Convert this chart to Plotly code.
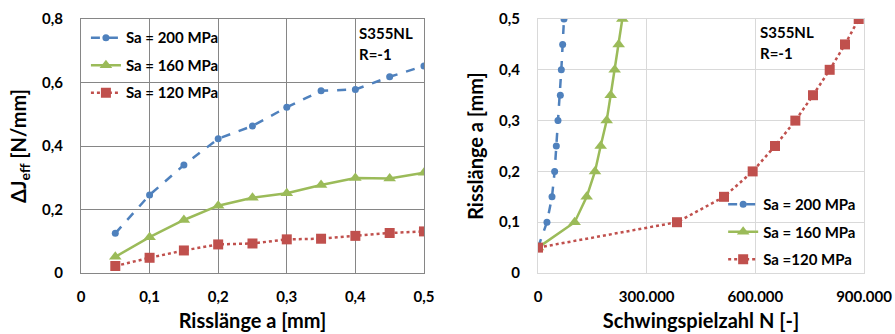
import plotly.graph_objects as go

# ---- data ----
a_left = [0.05, 0.10, 0.15, 0.20, 0.25, 0.30, 0.35, 0.40, 0.45, 0.50]
dJ_200 = [0.125, 0.246, 0.340, 0.423, 0.463, 0.522, 0.574, 0.578, 0.618, 0.652]
dJ_160 = [0.051, 0.113, 0.167, 0.212, 0.237, 0.251, 0.277, 0.299, 0.298, 0.316]
dJ_120 = [0.022, 0.048, 0.071, 0.090, 0.093, 0.106, 0.108, 0.117, 0.126, 0.131]

a_right = [0.05, 0.10, 0.15, 0.20, 0.25, 0.30, 0.35, 0.40, 0.45, 0.50]
N_200 = [0, 24800, 38700, 46000, 50600, 55200, 61700, 64400, 68100, 71800]
N_160 = [0, 101200, 134400, 157400, 173000, 189600, 200600, 211700, 222700, 232800]
N_120 = [0, 383700, 513500, 592600, 654300, 710400, 759200, 805200, 847500, 885300]

left_names = ["Sa = 200 MPa", "Sa = 160 MPa", "Sa = 120 MPa"]
right_names = ["Sa = 200 MPa", "Sa = 160 MPa", "Sa =120 MPa"]

left_xticks = [0, 0.1, 0.2, 0.3, 0.4, 0.5]
left_xticktext = ["0", "0,1", "0,2", "0,3", "0,4", "0,5"]
left_yticks = [0, 0.2, 0.4, 0.6, 0.8]
left_yticktext = ["0", "0,2", "0,4", "0,6", "0,8"]
right_xticks = [0, 300000, 600000, 900000]
right_xticktext = ["0", "300.000", "600.000", "900.000"]
right_yticks = [0, 0.1, 0.2, 0.3, 0.4, 0.5]
right_yticktext = ["0", "0,1", "0,2", "0,3", "0,4", "0,5"]

BLUE = "#4F81BD"
GREEN = "#9BBB59"
RED = "#C0504D"
FONT = "Lato"

styles = [
    dict(color=BLUE, dash="dash", symbol="circle", msize=7),
    dict(color=GREEN, dash="solid", symbol="triangle-up", msize=11),
    dict(color=RED, dash="dot", symbol="square", msize=10),
]

fig = go.Figure()

for ys, name, st in zip([dJ_200, dJ_160, dJ_120], left_names, styles):
    fig.add_trace(go.Scatter(
        x=a_left, y=ys, name=name, mode="lines+markers",
        line=dict(color=st["color"], dash=st["dash"], width=2.5),
        marker=dict(symbol=st["symbol"], size=st["msize"], color=st["color"]),
        xaxis="x", yaxis="y", legend="legend", legendgroup="L" + name,
    ))

for xs, name, st in zip([N_200, N_160, N_120], right_names, styles):
    fig.add_trace(go.Scatter(
        x=xs, y=a_right, name=name, mode="lines+markers",
        line=dict(color=st["color"], dash=st["dash"], width=2.5),
        marker=dict(symbol=st["symbol"], size=st["msize"], color=st["color"]),
        xaxis="x2", yaxis="y2", legend="legend2", legendgroup="R" + name,
    ))

tickfont = dict(family=FONT, size=15, color="#000000", weight="bold")
titlefont = dict(family=FONT, size=20, color="#000000", weight="bold")
legfont = dict(family=FONT, size=15, color="#000000", weight="bold")
notefont = dict(family=FONT, size=15, color="#000000", weight="bold")
ydom = [0.1826, 0.9431]

fig.update_layout(
    width=895, height=334,
    margin=dict(l=0, r=0, t=0, b=0),
    paper_bgcolor="white", plot_bgcolor="white",
    font=dict(family=FONT, color="#000000"),
    xaxis=dict(domain=[0.0905, 0.4737], range=[0, 0.5], tickvals=left_xticks,
               ticktext=left_xticktext, tickfont=tickfont, showgrid=True,
               gridcolor="#868686", gridwidth=1, showline=True, linecolor="#868686",
               mirror=True, zeroline=False, ticks="", ticklabelstandoff=10,
               title=dict(text="Risslänge a [mm]", font=titlefont, standoff=9),
               anchor="y", automargin=False),
    yaxis=dict(domain=ydom, range=[0, 0.8], tickvals=left_yticks,
               ticktext=left_yticktext, tickfont=tickfont, showgrid=True,
               gridcolor="#868686", gridwidth=1, showline=True, linecolor="#868686",
               mirror=True, zeroline=False, ticks="", ticklabelstandoff=14,
               title=dict(text="ΔJ<sub>eff</sub> [N/mm]", font=titlefont, standoff=10),
               anchor="x", automargin=False),
    xaxis2=dict(domain=[0.6011, 0.9654], range=[0, 900000], tickvals=right_xticks,
                ticktext=right_xticktext, tickfont=tickfont, showgrid=True,
                gridcolor="#D9D9D9", gridwidth=1, showline=True, linecolor="#D9D9D9",
                mirror=True, zeroline=False, ticks="", ticklabelstandoff=10,
                title=dict(text="Schwingspielzahl N [-]", font=titlefont, standoff=9),
                anchor="y2", automargin=False),
    yaxis2=dict(domain=ydom, range=[0, 0.5], tickvals=right_yticks,
                ticktext=right_yticktext, tickfont=tickfont, showgrid=True,
                gridcolor="#D9D9D9", gridwidth=1, showline=True, linecolor="#D9D9D9",
                mirror=True, zeroline=False, ticks="", ticklabelstandoff=14,
                title=dict(text="Risslänge a [mm]", font=titlefont, standoff=10),
                anchor="x2", automargin=False),
    legend=dict(x=0.096, y=0.936, xanchor="left", yanchor="top",
                bgcolor="rgba(0,0,0,0)", font=legfont,
                traceorder="grouped", tracegroupgap=5, itemwidth=30),
    legend2=dict(x=0.808, y=0.437, xanchor="left", yanchor="top",
                 bgcolor="rgba(0,0,0,0)", font=legfont,
                 traceorder="grouped", tracegroupgap=5, itemwidth=30),
    annotations=[
        dict(text="S355NL", x=0.399, y=1 - 33 / 334, xref="paper", yref="paper",
             xanchor="left", yanchor="middle", align="left", showarrow=False, font=notefont),
        dict(text="R=-1", x=0.399, y=1 - 54 / 334, xref="paper", yref="paper",
             xanchor="left", yanchor="middle", align="left", showarrow=False, font=notefont),
        dict(text="S355NL", x=0.847, y=1 - 32 / 334, xref="paper", yref="paper",
             xanchor="left", yanchor="middle", align="left", showarrow=False, font=notefont),
        dict(text="R=-1", x=0.847, y=1 - 53 / 334, xref="paper", yref="paper",
             xanchor="left", yanchor="middle", align="left", showarrow=False, font=notefont),
    ],
)

fig.write_html("out.html")
